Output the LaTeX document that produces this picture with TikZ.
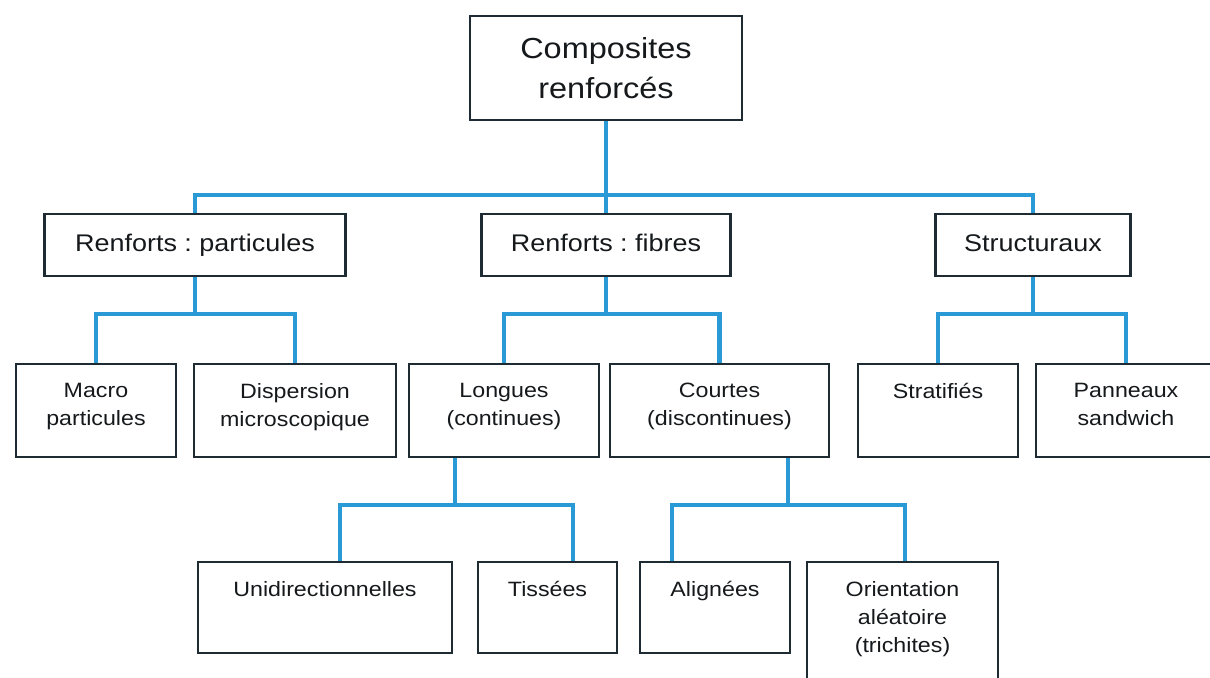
\documentclass[tikz,border=0pt]{standalone}
\usepackage{fontspec}
\setmainfont[FakeStretch=1.12]{Liberation Sans}
\usepackage{xcolor}
\frenchspacing

\definecolor{linkblue}{HTML}{2A9AD6}
\definecolor{boxline}{HTML}{1E2B32}
\definecolor{txtcol}{HTML}{15191B}

\begin{document}
\begin{tikzpicture}[x=0.02cm, y=-0.02cm,
  box/.style={draw=boxline, line width=1.4pt, anchor=north, inner sep=0pt, text=txtcol},
  head/.style={box, minimum height=1.24cm, text height=10pt, text depth=3pt,
    font=\fontsize{13.7}{16}\selectfont},
  link/.style={draw=linkblue, line width=2.8pt},
  txt/.style={anchor=north, inner sep=0pt, align=center, text=txtcol,
    font=\fontsize{11.8}{15.9}\selectfont}]
\clip (0, 0) rectangle (1210, 677);
\fill [white] (0, 0) rectangle (1210, 677);

% top and first level
\node [box, minimum width=5.44cm, minimum height=2.08cm, align=center,
  font=\fontsize{16.5}{22.7}\selectfont] (root) at (606, 15) {Composites\\renforcés};
\node [head, minimum width=6.02cm] (part) at (195, 213) {Renforts : particules};
\node [head, minimum width=4.98cm] (fib) at (606, 213) {Renforts : fibres};
\node [head, minimum width=3.9cm] (str) at (1033, 213) {Structuraux};

% second level
\node [box, minimum width=3.2cm, minimum height=1.86cm] (mac) at (96, 363) {};
\node [box, minimum width=4.04cm, minimum height=1.86cm] (dis) at (295, 363) {};
\node [box, minimum width=3.8cm, minimum height=1.86cm] (lon) at (504, 363) {};
\node [box, minimum width=4.38cm, minimum height=1.86cm] (cou) at (719.5, 363) {};
\node [box, minimum width=3.2cm, minimum height=1.86cm] (strat) at (938, 363) {};
\node [box, minimum width=3.6cm, minimum height=1.86cm] (pan) at (1126, 363) {};
\node [txt] (macT) at ([yshift=-0.4cm]mac.north) {Macro\\particules};
\node [txt] (disT) at ([yshift=-0.4cm]dis.north) {Dispersion\\microscopique};
\node [txt] (lonT) at ([yshift=-0.4cm]lon.north) {Longues\\(continues)};
\node [txt] (couT) at ([yshift=-0.4cm]cou.north) {Courtes\\(discontinues)};
\node [txt] (stratT) at ([yshift=-0.4cm]strat.north) {Stratifiés};
\node [txt] (panT) at ([yshift=-0.4cm]pan.north) {Panneaux\\sandwich};

% third level
\node [box, minimum width=5.08cm, minimum height=1.82cm] (uni) at (325, 561) {};
\node [box, minimum width=2.78cm, minimum height=1.82cm] (tis) at (547.5, 561) {};
\node [box, minimum width=3.0cm, minimum height=1.82cm] (ali) at (715, 561) {};
\node [box, minimum width=3.82cm, minimum height=2.8cm] (ori) at (902.5, 561) {};
\node [txt] (uniT) at ([yshift=-0.4cm]uni.north) {Unidirectionnelles};
\node [txt] (tisT) at ([yshift=-0.4cm]tis.north) {Tissées};
\node [txt] (aliT) at ([yshift=-0.4cm]ali.north) {Alignées};
\node [txt] (oriT) at ([yshift=-0.4cm]ori.north) {Orientation\\aléatoire\\(trichites)};

% connectors
\coordinate (rb) at (606, 195);
\coordinate (pb) at (195, 314);
\coordinate (fb) at (606, 314);
\coordinate (sb) at (1033, 314);
\coordinate (lb) at (455, 505);
\coordinate (cb) at (788, 505);
\coordinate (uniX) at (340, 0);
\coordinate (tisX) at (573, 0);
\coordinate (aliX) at (672, 0);
\coordinate (oriX) at (905, 0);
\draw [link] (root.south) -- (rb);
\draw [link] (part.north) |- (rb) -| (str.north);
\draw [link] (rb) -- (fib.north);
\draw [link] (part.south) -- (pb);
\draw [link] (mac.north) |- (pb) -| (dis.north);
\draw [link] (fib.south) -- (fb);
\draw [link] (lon.north) |- (fb) -| (cou.north);
\draw [link] (str.south) -- (sb);
\draw [link] (strat.north) |- (sb) -| (pan.north);
\draw [link] (lon.south -| lb) -- (lb);
\draw [link] (uni.north -| uniX) |- (lb) -| (tis.north -| tisX);
\draw [link] (cou.south -| cb) -- (cb);
\draw [link] (ali.north -| aliX) |- (cb) -| (ori.north -| oriX);
\end{tikzpicture}
\end{document}
